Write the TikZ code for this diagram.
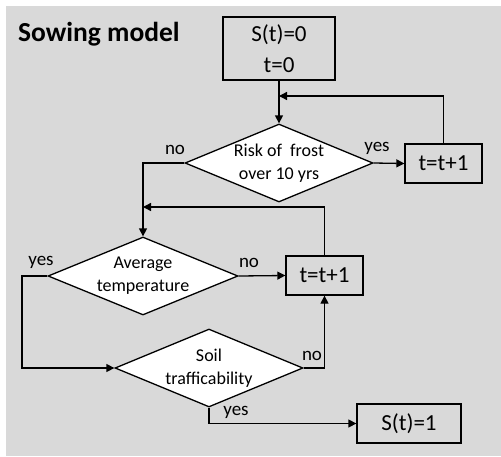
\documentclass[tikz,border=0pt]{standalone}
\usepackage{fontspec}
\setmainfont{Carlito}
\usepackage{xcolor}
\usetikzlibrary{positioning,arrows.meta,shapes.geometric,calc}
\definecolor{bggray}{HTML}{D9D9D9}

\begin{document}
\begin{tikzpicture}[
  x=1pt, y=-1pt,
  box/.style={draw, line width=1.3pt, fill=bggray, inner sep=0pt, align=center, font=\fontsize{23}{31}\selectfont},
  decision/.style={draw, line width=1.3pt, fill=white, shape=diamond, inner sep=0pt, minimum width=188pt, minimum height=78pt, label={[align=center, font=\fontsize{18}{23}\selectfont]center:#1}},
  lbl/.style={font=\fontsize{19}{22}\selectfont, inner sep=0pt},
  arr/.style={-{Triangle[length=8pt,width=8pt]}, line width=1.3pt},
  ln/.style={line width=1.3pt}
]
\useasboundingbox (0,0) rectangle (501,456);
\fill[bggray] (6,6) rectangle (501,456);

\node[anchor=base west, font=\fontsize{27.5}{34}\selectfont\bfseries, inner sep=0pt] (title) at (18,41) {Sowing model};

\node[box, minimum width=112pt, minimum height=63pt] (start) at (279,48.5) {S(t)=0\\t=0};
\node[decision={Risk of\ \ frost\\over 10 yrs}] (frost) at (279,163) {};
\node[box, minimum width=77pt, minimum height=39pt] (inca) at (443.5,163.5) {t=t+1};
\node[decision={Average\\temperature}, minimum width=190pt] (temp) at (143,276) {};
\node[box, minimum width=77pt, minimum height=39pt] (incb) at (324.5,275.5) {t=t+1};
\node[decision={Soil\\trafficability}] (soil) at (209,368) {};
\node[box, minimum width=104pt, minimum height=39pt] (sown) at (409,423.5) {S(t)=1};

\coordinate (joina) at (279,96);
\coordinate (joinb) at (143,207);
\coordinate (yesbend) at (22,320);

\draw[arr] (start) -- (frost);
\draw[arr] (frost.east) -- (inca.west);
\draw[arr] (inca.north) |- (joina);
\draw[arr] (frost.west) -| (temp.north);
\draw[arr] (incb.north) |- (joinb);
\draw[arr] (temp.east) -- (incb.west);
\draw[arr] (temp.west) -| (yesbend) |- (soil.west);
\draw[arr] (soil.east) -| (incb.south);
\draw[arr] (soil.south) |- (sown.west);

\node[lbl] (noa) at (175,150) {no};
\node[lbl] (yesa) at (377,148) {yes};
\node[lbl] (yesb) at (41,262) {yes};
\node[lbl] (nob) at (249,263) {no};
\node[lbl] (noc) at (312,356) {no};
\node[lbl] (yesc) at (236,412) {yes};

\end{tikzpicture}
\end{document}
